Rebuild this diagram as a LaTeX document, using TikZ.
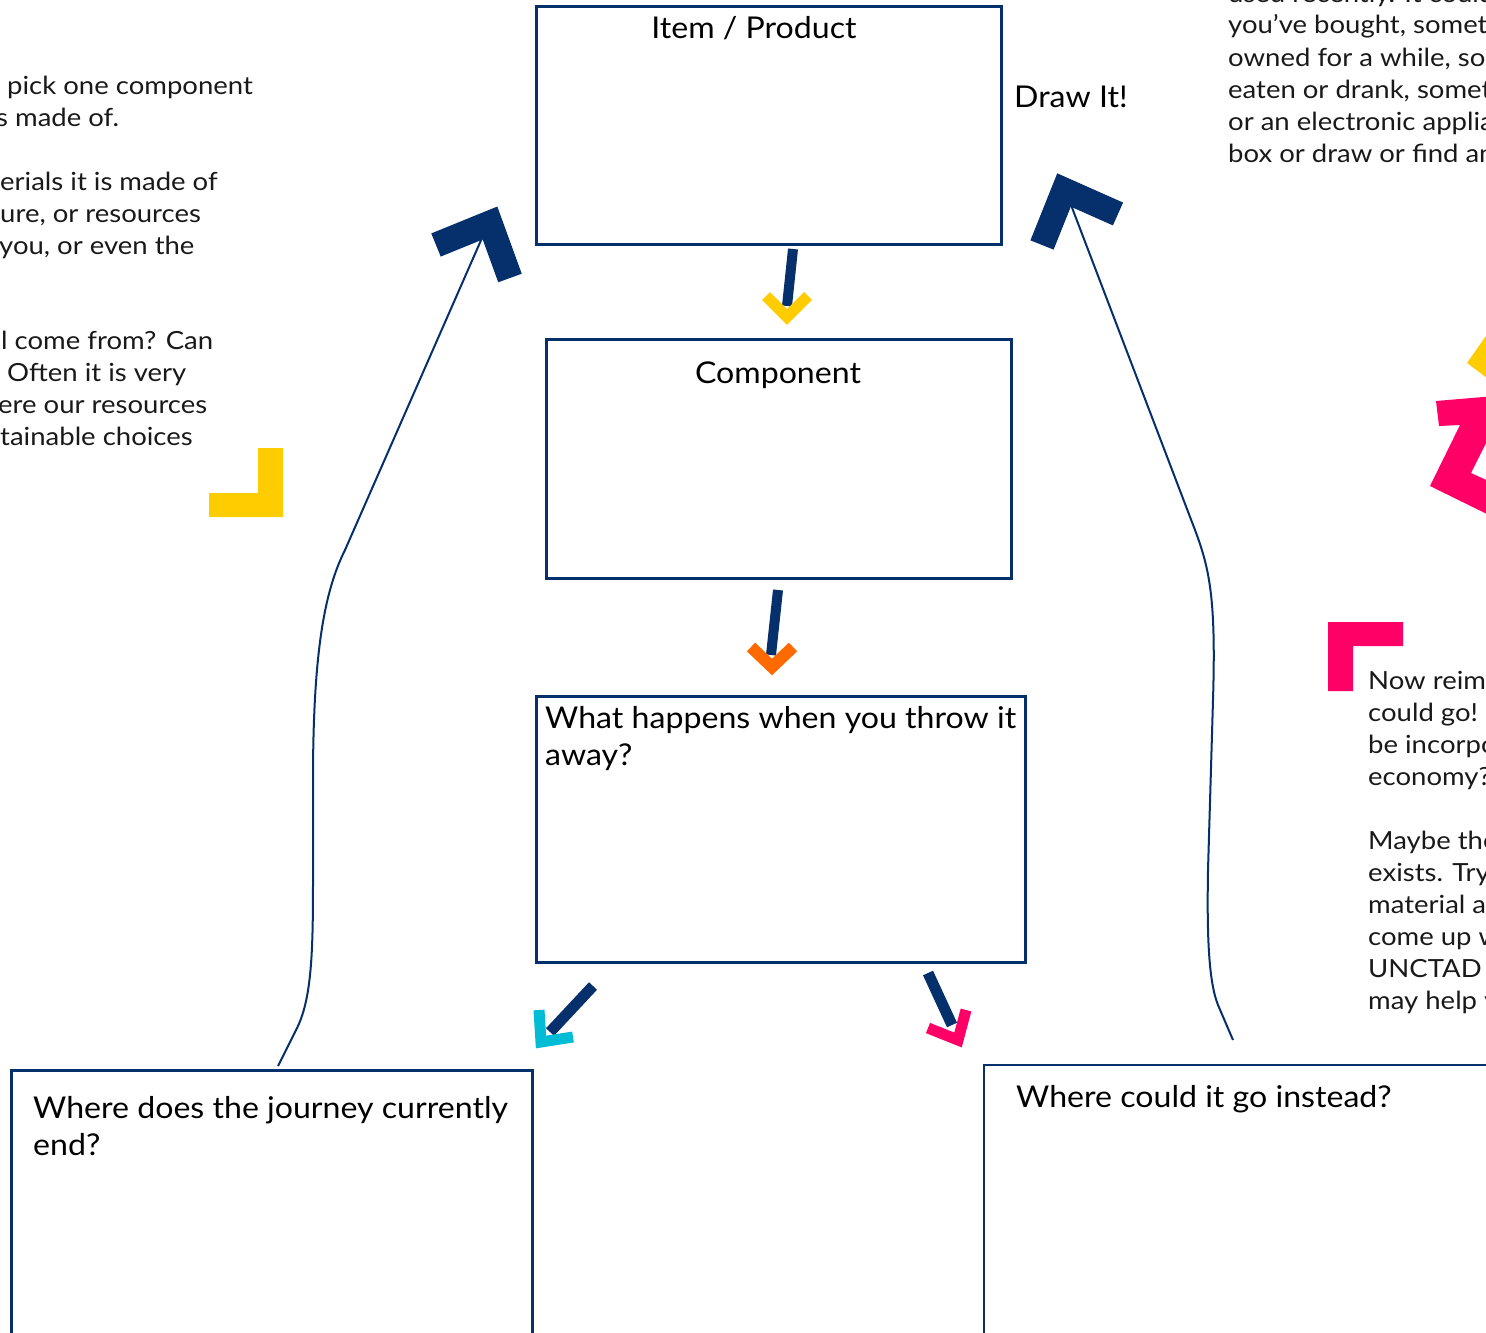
\documentclass[tikz,border=0pt]{standalone}
\usepackage{fontspec}
\setmainfont{Lato}
\newfontfamily\lblfont{Lato}[FakeStretch=1.07]
\newfontfamily\parafont{Lato}[FakeStretch=1.10]
\usetikzlibrary{calc}
\definecolor{navy}{HTML}{06306B}
\definecolor{gold}{HTML}{FFCC00}
\definecolor{orng}{HTML}{FF6A00}
\definecolor{cyanb}{HTML}{00BCD4}
\definecolor{pinkb}{HTML}{FF0066}
\begin{document}
\begin{tikzpicture}[x=1pt,y=-1pt,
  box/.style={draw=navy, line width=2.5pt, inner sep=0pt, anchor=north west},
  lbl/.style={font=\lblfont\fontsize{30}{37}\selectfont, inner sep=0pt, anchor=base west, align=left, text=black},
  para/.style={font=\parafont\fontsize{25}{32}\selectfont, inner sep=0pt, anchor=base west, text=black!90},
  shaft/.style={draw=navy, line width=10pt},
  chev/.style={line width=11pt, miter limit=10},
  bigchev/.style={draw=navy, line width=25pt, miter limit=10},
  flow/.style={draw=navy, line width=2pt}
]
\useasboundingbox (0,0) rectangle (1486,1333);
\clip (0,0) rectangle (1486,1333);

% boxes
\node[box, minimum width=465pt, minimum height=238pt] (item) at (535,5) {};
\node[box, minimum width=465pt, minimum height=239pt] (comp) at (545,338) {};
\node[box, minimum width=489pt, minimum height=266pt] (away) at (535,695) {};
\node[box, minimum width=521pt, minimum height=300pt] (ends) at (10,1069) {};
\node[box, line width=2pt, minimum width=560pt, minimum height=300pt] (instead) at (983,1064) {};

% labels (multi-line: base = last line)
\node[lbl, anchor=base] (itemL) at (754,38) {Item / Product};
\node[lbl, anchor=base] (compL) at (778,383) {Component};
\node[lbl] (awayL) at (545,765) {What happens when you throw it\\away?};
\node[lbl] (endsL) at (33,1155) {Where does the journey currently\\end?};
\node[lbl] (insteadL) at (1016,1107) {Where could it go instead?};
\node[lbl] (drawL) at (1014,107) {Draw It!};

% left paragraph (clipped)
\node[para] (l1) at (7,94) {pick one component};
\node[para] (l2) at (-4,126) {s made of.};
\node[para] (l3) at (0,190) {erials it is made of};
\node[para] (l4) at (0,222) {ure, or resources};
\node[para] (l5) at (-1,254) {you, or even the};
\node[para] (l6) at (1,349) {l come from? Can};
\node[para] (l7) at (7,381) {Often it is very};
\node[para] (l8) at (-2,413) {ere our resources};
\node[para] (l9) at (0,445) {tainable choices};

% right top paragraph (clipped)
\node[para] (r0) at (1228,2) {used recently. It could};
\node[para] (r1) at (1228,34) {you’ve bought, something};
\node[para] (r2) at (1228,66) {owned for a while, something};
\node[para] (r3) at (1228,98) {eaten or drank, something};
\node[para] (r4) at (1228,130) {or an electronic appliance};
\node[para] (r5) at (1228,162) {box or draw or find an};

% right lower paragraph (clipped)
\node[para] (s1) at (1368,689) {Now reimagine};
\node[para] (s2) at (1368,721) {could go! It};
\node[para] (s3) at (1368,753) {be incorporated};
\node[para] (s4) at (1368,785) {economy?};
\node[para] (s5) at (1368,849) {Maybe there};
\node[para] (s6) at (1368,881) {exists. Try};
\node[para] (s7) at (1368,913) {material and};
\node[para] (s8) at (1368,945) {come up with};
\node[para] (s9) at (1368,977) {UNCTAD};
\node[para] (s10) at (1368,1009) {may help you};

% decorative shapes
\fill[gold] (258,448) -- (283,448) -- (283,517) -- (209,517) -- (209,493) -- (258,493) -- cycle;
\fill[pinkb] (1328,622) -- (1403,622) -- (1403,646) -- (1353,646) -- (1353,691) -- (1328,691) -- cycle;
\fill[gold] (1467,363) -- (1495,323) -- (1495,384) -- cycle;
\fill[pinkb] (1436,401) -- (1495,396) -- (1495,425) -- (1471,473) -- (1495,484) -- (1495,518)
  -- (1430,486) -- (1460,425) -- (1439,426) -- cycle;

% arrow 1: item -> component
\coordinate (a1s) at (793,249);
\coordinate (a1e) at (787,306);
\draw[shaft] (a1s) -- (a1e);
\draw[chev, gold] (766,296) -- (787,317) -- (808,296);

% arrow 2: component -> away
\coordinate (a2s) at (778,590);
\coordinate (a2e) at (771,655);
\draw[shaft] (a2s) -- (a2e);
\draw[chev, orng, line width=12pt] (751,647) -- (772,667) -- (793,647);

% arrow 3: away -> ends (cyan)
\coordinate (a3s) at (593,986);
\coordinate (a3e) at (550,1032);
\draw[shaft, line width=11pt] (a3s) -- (a3e);
\draw[chev, cyanb] (539,1010) -- (541,1042) -- (573,1037);

% arrow 4: away -> instead (pink)
\coordinate (a4s) at (928,973);
\coordinate (a4e) at (952,1025);
\draw[shaft, line width=11pt] (a4s) -- (a4e);
\draw[chev, pinkb] (966,1010) -- (958,1040) -- (928,1028);

% big chevrons
\draw[bigchev] (436,245) -- (490,223) -- (510,278);
\draw[bigchev] (1118,214) -- (1064,190) -- (1042,245);

% flow lines
\coordinate (f1s) at (278,1066);
\coordinate (f1e) at (482,238);
\draw[flow] (f1s) -- (296,1030) .. controls (312,1000) and (313,950) .. (313,880)
  -- (313,780) .. controls (313,650) and (325,590) .. (345,550) -- (f1e);
\coordinate (f2s) at (1233,1040);
\coordinate (f2e) at (1071,205);
\draw[flow] (f2s) -- (1218,1005) .. controls (1208,980) and (1207,930) .. (1208,870)
  -- (1213,700) .. controls (1216,600) and (1210,570) .. (1195,530) -- (f2e);
\end{tikzpicture}
\end{document}
